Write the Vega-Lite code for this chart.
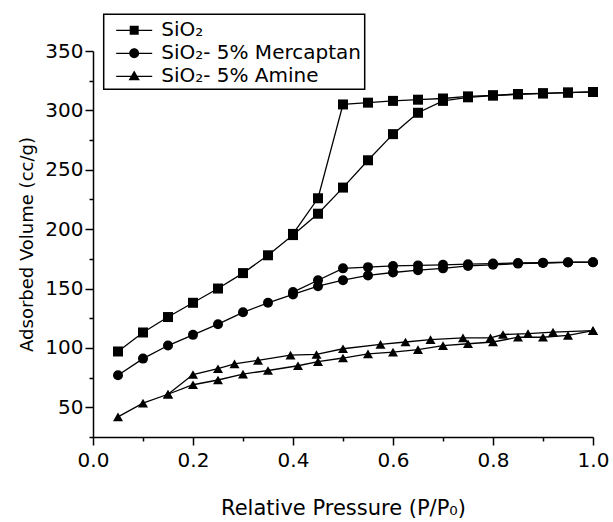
{
  "$schema": "https://vega.github.io/schema/vega-lite/v6.json",
  "width": 500,
  "height": 386,
  "autosize": {"type": "none"},
  "padding": {"left": 93, "top": 51, "right": 20, "bottom": 85},
  "background": "white",
  "config": {
    "view": {"stroke": null},
    "font": "DejaVu Sans",
    "axis": {
      "grid": false,
      "domainColor": "black",
      "domainWidth": 1.5,
      "tickColor": "black",
      "tickWidth": 1.5,
      "labelColor": "black",
      "titleColor": "black",
      "labelFont": "DejaVu Sans",
      "titleFont": "DejaVu Sans",
      "labelFontSize": 20,
      "titleFontWeight": "normal"
    }
  },
  "data": {
    "values": [
      {"series": "SiO₂", "branch": "ads", "x": 0.05, "y": 97},
      {"series": "SiO₂", "branch": "ads", "x": 0.1, "y": 113},
      {"series": "SiO₂", "branch": "ads", "x": 0.15, "y": 126},
      {"series": "SiO₂", "branch": "ads", "x": 0.2, "y": 138},
      {"series": "SiO₂", "branch": "ads", "x": 0.25, "y": 150},
      {"series": "SiO₂", "branch": "ads", "x": 0.3, "y": 163},
      {"series": "SiO₂", "branch": "ads", "x": 0.35, "y": 178},
      {"series": "SiO₂", "branch": "ads", "x": 0.4, "y": 195},
      {"series": "SiO₂", "branch": "ads", "x": 0.45, "y": 213},
      {"series": "SiO₂", "branch": "ads", "x": 0.5, "y": 235},
      {"series": "SiO₂", "branch": "ads", "x": 0.55, "y": 258},
      {"series": "SiO₂", "branch": "ads", "x": 0.6, "y": 280},
      {"series": "SiO₂", "branch": "ads", "x": 0.65, "y": 298},
      {"series": "SiO₂", "branch": "ads", "x": 0.7, "y": 308},
      {"series": "SiO₂", "branch": "ads", "x": 0.75, "y": 311},
      {"series": "SiO₂", "branch": "ads", "x": 0.8, "y": 312.5},
      {"series": "SiO₂", "branch": "ads", "x": 0.85, "y": 313.5},
      {"series": "SiO₂", "branch": "ads", "x": 0.9, "y": 314.3},
      {"series": "SiO₂", "branch": "ads", "x": 0.95, "y": 315},
      {"series": "SiO₂", "branch": "ads", "x": 1.0, "y": 315.5},
      {"series": "SiO₂", "branch": "des", "x": 1.0, "y": 315.5},
      {"series": "SiO₂", "branch": "des", "x": 0.95, "y": 315},
      {"series": "SiO₂", "branch": "des", "x": 0.9, "y": 314.4},
      {"series": "SiO₂", "branch": "des", "x": 0.85, "y": 313.8},
      {"series": "SiO₂", "branch": "des", "x": 0.8, "y": 312.7},
      {"series": "SiO₂", "branch": "des", "x": 0.75, "y": 311.8},
      {"series": "SiO₂", "branch": "des", "x": 0.7, "y": 310},
      {"series": "SiO₂", "branch": "des", "x": 0.65, "y": 309},
      {"series": "SiO₂", "branch": "des", "x": 0.6, "y": 308},
      {"series": "SiO₂", "branch": "des", "x": 0.55, "y": 306.5},
      {"series": "SiO₂", "branch": "des", "x": 0.5, "y": 305},
      {"series": "SiO₂", "branch": "des", "x": 0.45, "y": 226},
      {"series": "SiO₂", "branch": "des", "x": 0.4, "y": 196},
      {"series": "SiO₂- 5% Mercaptan", "branch": "ads", "x": 0.05, "y": 77},
      {"series": "SiO₂- 5% Mercaptan", "branch": "ads", "x": 0.1, "y": 91},
      {"series": "SiO₂- 5% Mercaptan", "branch": "ads", "x": 0.15, "y": 102},
      {"series": "SiO₂- 5% Mercaptan", "branch": "ads", "x": 0.2, "y": 111},
      {"series": "SiO₂- 5% Mercaptan", "branch": "ads", "x": 0.25, "y": 120},
      {"series": "SiO₂- 5% Mercaptan", "branch": "ads", "x": 0.3, "y": 130},
      {"series": "SiO₂- 5% Mercaptan", "branch": "ads", "x": 0.35, "y": 138},
      {"series": "SiO₂- 5% Mercaptan", "branch": "ads", "x": 0.4, "y": 145},
      {"series": "SiO₂- 5% Mercaptan", "branch": "ads", "x": 0.45, "y": 152},
      {"series": "SiO₂- 5% Mercaptan", "branch": "ads", "x": 0.5, "y": 157},
      {"series": "SiO₂- 5% Mercaptan", "branch": "ads", "x": 0.55, "y": 161},
      {"series": "SiO₂- 5% Mercaptan", "branch": "ads", "x": 0.6, "y": 163.5},
      {"series": "SiO₂- 5% Mercaptan", "branch": "ads", "x": 0.65, "y": 165.5},
      {"series": "SiO₂- 5% Mercaptan", "branch": "ads", "x": 0.7, "y": 167},
      {"series": "SiO₂- 5% Mercaptan", "branch": "ads", "x": 0.75, "y": 169},
      {"series": "SiO₂- 5% Mercaptan", "branch": "ads", "x": 0.8, "y": 170},
      {"series": "SiO₂- 5% Mercaptan", "branch": "ads", "x": 0.85, "y": 171},
      {"series": "SiO₂- 5% Mercaptan", "branch": "ads", "x": 0.9, "y": 171.5},
      {"series": "SiO₂- 5% Mercaptan", "branch": "ads", "x": 0.95, "y": 172},
      {"series": "SiO₂- 5% Mercaptan", "branch": "ads", "x": 1.0, "y": 172.2},
      {"series": "SiO₂- 5% Mercaptan", "branch": "des", "x": 1.0, "y": 172.2},
      {"series": "SiO₂- 5% Mercaptan", "branch": "des", "x": 0.95, "y": 172.2},
      {"series": "SiO₂- 5% Mercaptan", "branch": "des", "x": 0.9, "y": 171.7},
      {"series": "SiO₂- 5% Mercaptan", "branch": "des", "x": 0.85, "y": 171.5},
      {"series": "SiO₂- 5% Mercaptan", "branch": "des", "x": 0.8, "y": 171},
      {"series": "SiO₂- 5% Mercaptan", "branch": "des", "x": 0.75, "y": 170.5},
      {"series": "SiO₂- 5% Mercaptan", "branch": "des", "x": 0.7, "y": 170},
      {"series": "SiO₂- 5% Mercaptan", "branch": "des", "x": 0.65, "y": 169.5},
      {"series": "SiO₂- 5% Mercaptan", "branch": "des", "x": 0.6, "y": 169},
      {"series": "SiO₂- 5% Mercaptan", "branch": "des", "x": 0.55, "y": 168},
      {"series": "SiO₂- 5% Mercaptan", "branch": "des", "x": 0.5, "y": 167},
      {"series": "SiO₂- 5% Mercaptan", "branch": "des", "x": 0.45, "y": 157},
      {"series": "SiO₂- 5% Mercaptan", "branch": "des", "x": 0.4, "y": 147},
      {"series": "SiO₂- 5% Amine", "branch": "ads", "x": 0.05, "y": 42},
      {"series": "SiO₂- 5% Amine", "branch": "ads", "x": 0.1, "y": 53.5},
      {"series": "SiO₂- 5% Amine", "branch": "ads", "x": 0.15, "y": 61},
      {"series": "SiO₂- 5% Amine", "branch": "ads", "x": 0.2, "y": 69},
      {"series": "SiO₂- 5% Amine", "branch": "ads", "x": 0.25, "y": 73},
      {"series": "SiO₂- 5% Amine", "branch": "ads", "x": 0.3, "y": 78},
      {"series": "SiO₂- 5% Amine", "branch": "ads", "x": 0.35, "y": 81},
      {"series": "SiO₂- 5% Amine", "branch": "ads", "x": 0.41, "y": 85},
      {"series": "SiO₂- 5% Amine", "branch": "ads", "x": 0.45, "y": 88.5},
      {"series": "SiO₂- 5% Amine", "branch": "ads", "x": 0.5, "y": 91.5},
      {"series": "SiO₂- 5% Amine", "branch": "ads", "x": 0.55, "y": 95},
      {"series": "SiO₂- 5% Amine", "branch": "ads", "x": 0.6, "y": 96.5},
      {"series": "SiO₂- 5% Amine", "branch": "ads", "x": 0.65, "y": 98.5},
      {"series": "SiO₂- 5% Amine", "branch": "ads", "x": 0.7, "y": 102},
      {"series": "SiO₂- 5% Amine", "branch": "ads", "x": 0.75, "y": 103.5},
      {"series": "SiO₂- 5% Amine", "branch": "ads", "x": 0.8, "y": 105},
      {"series": "SiO₂- 5% Amine", "branch": "ads", "x": 0.85, "y": 109},
      {"series": "SiO₂- 5% Amine", "branch": "ads", "x": 0.9, "y": 109},
      {"series": "SiO₂- 5% Amine", "branch": "ads", "x": 0.95, "y": 110.5},
      {"series": "SiO₂- 5% Amine", "branch": "ads", "x": 1.0, "y": 114.5},
      {"series": "SiO₂- 5% Amine", "branch": "des", "x": 1.0, "y": 114.5},
      {"series": "SiO₂- 5% Amine", "branch": "des", "x": 0.92, "y": 113.3},
      {"series": "SiO₂- 5% Amine", "branch": "des", "x": 0.87, "y": 112},
      {"series": "SiO₂- 5% Amine", "branch": "des", "x": 0.82, "y": 111.3},
      {"series": "SiO₂- 5% Amine", "branch": "des", "x": 0.795, "y": 108.5},
      {"series": "SiO₂- 5% Amine", "branch": "des", "x": 0.74, "y": 108.5},
      {"series": "SiO₂- 5% Amine", "branch": "des", "x": 0.675, "y": 107},
      {"series": "SiO₂- 5% Amine", "branch": "des", "x": 0.625, "y": 105},
      {"series": "SiO₂- 5% Amine", "branch": "des", "x": 0.575, "y": 103},
      {"series": "SiO₂- 5% Amine", "branch": "des", "x": 0.5, "y": 99.3},
      {"series": "SiO₂- 5% Amine", "branch": "des", "x": 0.447, "y": 94.5},
      {"series": "SiO₂- 5% Amine", "branch": "des", "x": 0.395, "y": 94},
      {"series": "SiO₂- 5% Amine", "branch": "des", "x": 0.33, "y": 89.5},
      {"series": "SiO₂- 5% Amine", "branch": "des", "x": 0.283, "y": 86.6},
      {"series": "SiO₂- 5% Amine", "branch": "des", "x": 0.25, "y": 82.5},
      {"series": "SiO₂- 5% Amine", "branch": "des", "x": 0.2, "y": 77.6},
      {"series": "SiO₂- 5% Amine", "branch": "des", "x": 0.15, "y": 61}
    ]
  },
  "encoding": {
    "x": {
      "field": "x",
      "type": "quantitative",
      "scale": {"domain": [0, 1], "nice": false, "zero": false},
      "axis": {
        "title": "Relative Pressure (P/P₀)",
        "titleFontSize": 21,
        "titlePadding": 27,
        "values": [0, 0.1, 0.2, 0.3, 0.4, 0.5, 0.6, 0.7, 0.8, 0.9, 1.0],
        "labelExpr": "round(datum.value*10)%2==0 ? format(datum.value,'.1f') : ''",
        "tickSize": {"condition": {"test": "round(datum.value*10)%2==1", "value": 4}, "value": 8},
        "labelPadding": 5,
        "labelFlush": false,
        "labelOverlap": false
      }
    },
    "y": {
      "field": "y",
      "type": "quantitative",
      "scale": {"domain": [25, 350], "nice": false, "zero": false},
      "axis": {
        "title": "Adsorbed Volume (cc/g)",
        "titleFontSize": 18,
        "titlePadding": 8,
        "values": [25, 50, 75, 100, 125, 150, 175, 200, 225, 250, 275, 300, 325, 350],
        "labelExpr": "datum.value%50==0 ? format(datum.value,'d') : ''",
        "tickSize": {"condition": {"test": "datum.value%50!=0", "value": 4}, "value": 8},
        "labelPadding": 2,
        "labelFlush": false,
        "labelOverlap": false
      }
    }
  },
  "resolve": {"scale": {"shape": "independent"}},
  "layer": [
    {
      "mark": {"type": "line", "color": "black", "strokeWidth": 1.3},
      "encoding": {"detail": [{"field": "series"}, {"field": "branch"}]}
    },
    {
      "mark": {"type": "point", "filled": true, "color": "black", "opacity": 1, "size": 100},
      "encoding": {
        "shape": {
          "field": "series",
          "type": "nominal",
          "scale": {"domain": ["SiO₂", "SiO₂- 5% Mercaptan", "SiO₂- 5% Amine"], "range": ["square", "circle", "triangle-up"]},
          "legend": null
        }
      }
    },
    {
      "mark": {"type": "point", "filled": true, "color": "black", "opacity": 0, "size": 81},
      "encoding": {
        "shape": {
          "field": "series",
          "type": "nominal",
          "scale": {
            "domain": ["SiO₂", "SiO₂- 5% Mercaptan", "SiO₂- 5% Amine"],
            "range": [
              "M-4,0.52H4V0.81H-4ZM-1,-0.33H1V1.67H-1Z",
              "M-4,0.52H4V0.81H-4ZM-1.1,0.67A1.1,1.1,0,1,1,1.1,0.67A1.1,1.1,0,1,1,-1.1,0.67Z",
              "M-4,0.52H4V0.81H-4ZM0,-0.63L1.25,1.52H-1.25Z"
            ]
          },
          "legend": {
            "orient": "none",
            "legendX": 10.7,
            "legendY": -36.7,
            "title": null,
            "strokeColor": "black",
            "padding": 3,
            "rowPadding": -1,
            "symbolSize": 81,
            "symbolOpacity": 1,
            "symbolFillColor": "black",
            "symbolOffset": 17.5,
            "labelOffset": 17,
            "labelFont": "DejaVu Sans",
            "labelFontSize": 20,
            "labelColor": "black",
            "labelLimit": 400,
            "encoding": {
              "legend": {"strokeWidth": {"value": 1.5}},
              "labels": {"dy": {"value": 3}},
              "symbols": {
                "fill": {"value": "black"},
                "opacity": {"value": 1}
              }
            }
          }
        }
      }
    }
  ]
}
